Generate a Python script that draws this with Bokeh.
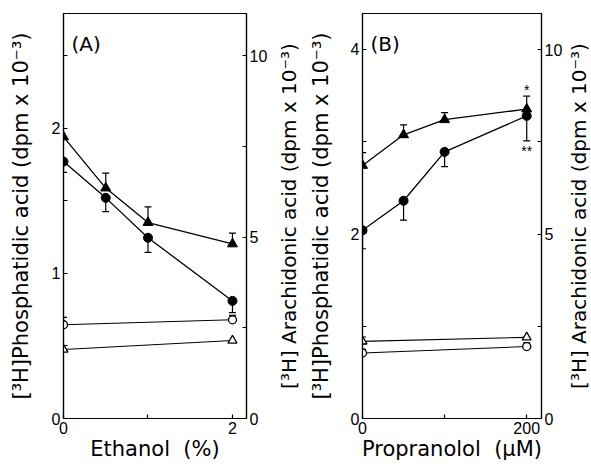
from bokeh.plotting import figure
from bokeh.models import (Range1d, LinearAxis, FixedTicker, Whisker, ColumnDataSource, Label,
                          TeeHead, Title)
from bokeh.layouts import row
from bokeh.embed import file_html
from bokeh.resources import INLINE

# ---------------- data ----------------
# Panel A: ethanol (%)
ethanol = [0, 0.5, 1, 2]
pa_eth = [1.77, 1.52, 1.245, 0.81]          # filled circles (left axis)
pa_eth_err = [0.075, 0.095, 0.10, 0.08]
aa_eth = [7.76, 6.35, 5.40, 4.81]           # filled triangles (right axis)
aa_eth_err = [0.0, 0.41, 0.43, 0.30]
ethanol_ctrl = [0, 2]
pa_eth_ctrl = [0.646, 0.68]                 # open circles (left axis)
pa_eth_ctrl_err = [0.05, 0.03]
aa_eth_ctrl = [1.90, 2.15]                  # open triangles (right axis)
aa_eth_ctrl_err = [0.0, 0.0]

# Panel B: propranolol (uM)
propranolol = [0, 50, 100, 200]
pa_prop = [2.04, 2.36, 2.89, 3.28]          # filled circles (left axis)
pa_prop_err = [0.2, 0.21, 0.16, 0.27]
aa_prop = [6.86, 7.69, 8.10, 8.39]          # filled triangles (right axis)
aa_prop_err = [0.35, 0.27, 0.19, 0.35]
propranolol_ctrl = [0, 200]
pa_prop_ctrl = [0.71, 0.78]                 # open circles (left axis)
pa_prop_ctrl_err = [0.04, 0.04]
aa_prop_ctrl = [2.09, 2.20]                 # open triangles (right axis)
aa_prop_ctrl_err = [0.12, 0.0]

TICK_FONT = "Liberation Sans"
LABEL_FONT = "DejaVu Sans"
LEFT_LABEL = "[³H]Phosphatidic acid (dpm x 10⁻³)"
RIGHT_LABEL = "[³H] Arachidonic acid (dpm x 10⁻³)"

H = 464
TOP = 13
BOTTOM = 46


def style_axis(ax, ticks, minor, label_text, label_size, standoff, tick_standoff=3):
    ax.ticker = FixedTicker(ticks=ticks, minor_ticks=minor)
    ax.major_tick_in = 4
    ax.major_tick_out = 0
    ax.minor_tick_in = 4
    ax.minor_tick_out = 0
    ax.axis_line_color = "black"
    ax.axis_line_width = 1.2
    ax.major_tick_line_width = 1.2
    ax.minor_tick_line_width = 1.2
    ax.minor_tick_line_color = "black"
    ax.major_label_text_font = TICK_FONT
    ax.major_label_text_font_size = "16px"
    ax.major_label_text_color = "black"
    ax.major_label_standoff = tick_standoff
    if label_text:
        ax.axis_label = label_text
        ax.axis_label_text_font = LABEL_FONT
        ax.axis_label_text_font_size = label_size
        ax.axis_label_text_font_style = "normal"
        ax.axis_label_text_color = "black"
        ax.axis_label_standoff = standoff


def make_panel(x, pa, pa_err, aa, aa_err, xc, pac, pac_err, aac, aac_err,
               xr, yl, yr, xticks, xminor, xlab, ylticks, ylminor, yrticks, yrminor,
               panel_label, width, bl, br, lstand):
    p = figure(width=width, height=H, output_backend="svg", toolbar_location=None,
               x_range=Range1d(*xr), y_range=Range1d(*yl),
               min_border_left=bl, min_border_right=br, min_border_top=TOP,
               min_border_bottom=BOTTOM)
    p.extra_y_ranges = {"right": Range1d(*yr)}
    p.grid.visible = False
    p.outline_line_color = "black"
    p.outline_line_width = 1.2
    p.background_fill_color = "white"
    p.border_fill_color = "white"

    style_axis(p.xaxis[0], xticks, xminor, xlab, "21px", 0, tick_standoff=3)
    style_axis(p.yaxis[0], ylticks, ylminor, LEFT_LABEL, "21px", lstand)
    rax = LinearAxis(y_range_name="right")
    style_axis(rax, yrticks, yrminor, None, None, None)
    p.add_layout(rax, "right")

    def tee():
        return TeeHead(size=7, line_width=1.2)

    up_src = ColumnDataSource(dict(x=x, lo=aa, hi=[a + e for a, e in zip(aa, aa_err)]))
    p.add_layout(Whisker(source=up_src, base="x", lower="lo", upper="hi", y_range_name="right",
                         lower_head=None, upper_head=tee(), line_width=1.2))
    dn_src = ColumnDataSource(dict(x=x, lo=[a - e for a, e in zip(pa, pa_err)], hi=pa))
    p.add_layout(Whisker(source=dn_src, base="x", lower="lo", upper="hi",
                         upper_head=None, lower_head=tee(), line_width=1.2))
    oc_src = ColumnDataSource(dict(x=xc, lo=pac, hi=[a + e for a, e in zip(pac, pac_err)]))
    p.add_layout(Whisker(source=oc_src, base="x", lower="lo", upper="hi",
                         lower_head=None, upper_head=tee(), line_width=1.2))
    ot_src = ColumnDataSource(dict(x=xc, lo=aac, hi=[a + e for a, e in zip(aac, aac_err)]))
    p.add_layout(Whisker(source=ot_src, base="x", lower="lo", upper="hi", y_range_name="right",
                         lower_head=None, upper_head=tee(), line_width=1.2))

    # filled triangles (right axis)
    p.line(x, aa, y_range_name="right", color="black", line_width=1.3)
    p.scatter(x, aa, y_range_name="right", marker="triangle", size=10, color="black")
    # filled circles (left axis)
    p.line(x, pa, color="black", line_width=1.3)
    p.scatter(x, pa, marker="circle", size=9, color="black")
    # open circles (left axis)
    p.line(xc, pac, color="black", line_width=1.1)
    p.scatter(xc, pac, marker="circle", size=8, fill_color="white", line_color="black", line_width=1.3)
    # open triangles (right axis)
    p.line(xc, aac, y_range_name="right", color="black", line_width=1.1)
    p.scatter(xc, aac, y_range_name="right", marker="triangle", size=9, fill_color="white",
              line_color="black", line_width=1.3)

    p.add_layout(Label(x=xr[0], y=yl[1], x_offset=8, y_offset=-18, text=panel_label,
                       text_baseline="top", text_font=LABEL_FONT, text_font_size="20px",
                       text_color="black"))
    return p


def right_title(width):
    """Narrow strip carrying the right-hand axis title, reading bottom-to-top."""
    s = figure(width=width, height=H, output_backend="svg", toolbar_location=None,
               x_axis_location=None, y_axis_location=None,
               x_range=Range1d(0, 1), y_range=Range1d(0, 1),
               min_border_left=0, min_border_right=0, min_border_top=TOP,
               min_border_bottom=BOTTOM)
    s.grid.visible = False
    s.outline_line_color = None
    s.background_fill_color = "white"
    s.border_fill_color = "white"
    s.add_layout(Title(text=RIGHT_LABEL, align="center", text_font=LABEL_FONT,
                       text_font_size="20px", text_font_style="normal", text_color="black",
                       standoff=0, offset=0), "left")
    return s


pA = make_panel(ethanol, pa_eth, pa_eth_err, aa_eth, aa_eth_err,
                ethanol_ctrl, pa_eth_ctrl, pa_eth_ctrl_err, aa_eth_ctrl, aa_eth_ctrl_err,
                (0, 2.166), (0, 2.79), (0, 11.16),
                [0, 2], [1], "Ethanol\u00a0\u00a0(%)",
                [0, 1, 2], [0.5, 1.5, 2.5],
                [0, 5, 10], [2.5, 7.5],
                "(A)", 274, 63, 28, 16)

pB = make_panel(propranolol, pa_prop, pa_prop_err, aa_prop, aa_prop_err,
                propranolol_ctrl, pa_prop_ctrl, pa_prop_ctrl_err, aa_prop_ctrl, aa_prop_ctrl_err,
                (0, 218), (0, 4.39), (0, 10.98),
                [0, 200], [100], "Propranolol\u00a0\u00a0(μM)",
                [0, 2, 4], [1, 3],
                [0, 5, 10], [2.5, 7.5],
                "(B)", 260, 55, 24, 15)

# significance marks at the last propranolol point
pB.add_layout(Label(x=propranolol[-1], y=aa_prop[-1] + aa_prop_err[-1], y_range_name="right",
                    text="*", text_font=TICK_FONT, text_font_size="14px", text_align="center",
                    y_offset=-2, text_color="black"))
pB.add_layout(Label(x=propranolol[-1], y=pa_prop[-1] - pa_prop_err[-1], text="**",
                    text_font=TICK_FONT, text_font_size="14px", text_align="center",
                    text_baseline="top", y_offset=-2, text_color="black"))

layout = row(pA, right_title(31), pB, right_title(25))
open("out.html", "w").write(file_html(layout, INLINE))
